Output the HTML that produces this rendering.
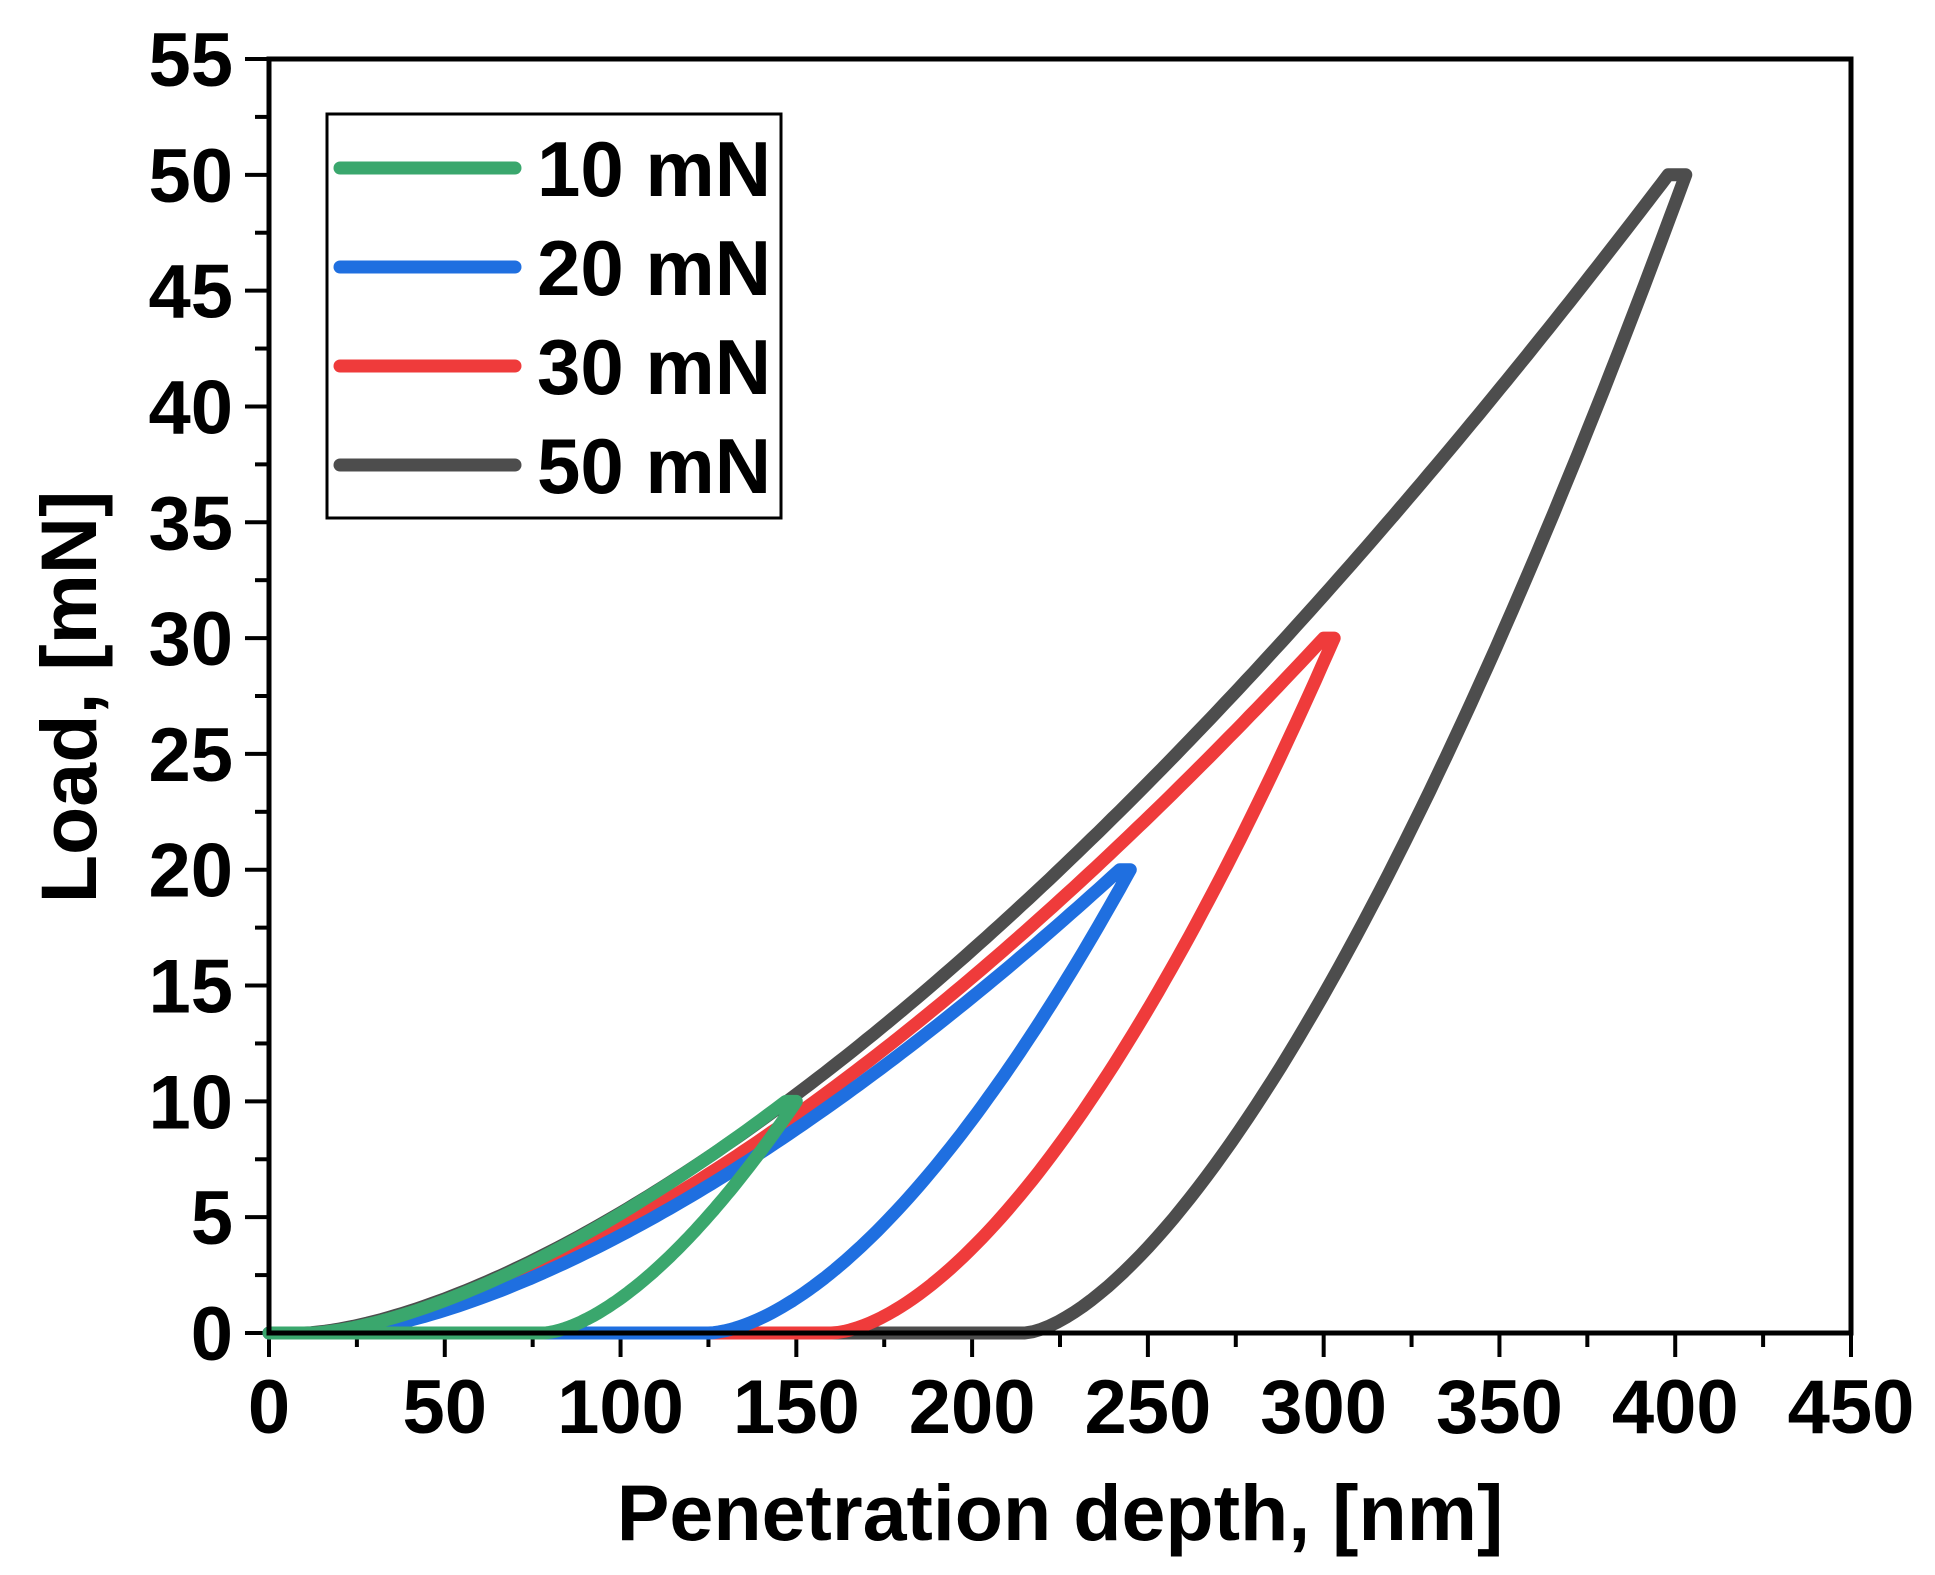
<!DOCTYPE html>
<html><head><meta charset="utf-8"><style>
html,body{margin:0;padding:0;background:#fff}
svg{display:block}
text{font-family:"Liberation Sans",Arial,sans-serif;font-weight:bold;fill:#000}
</style></head><body>
<svg id="s" width="1935" height="1575" viewBox="0 0 1935 1575" xmlns="http://www.w3.org/2000/svg">
<g id="ticks" stroke="#000" stroke-width="4"></g>
<g id="curves" fill="none" stroke-linejoin="round" stroke-linecap="round" stroke-width="13"></g>
<rect x="269" y="59" width="1582" height="1274" fill="none" stroke="#000" stroke-width="5"/>
<g id="labels" font-size="76"></g>
<text x="1060" y="1540" font-size="79" text-anchor="middle">Penetration depth, [nm]</text>
<text transform="translate(96,697) rotate(-90)" font-size="79" text-anchor="middle">Load, [mN]</text>
<rect x="327" y="114" width="454" height="404" fill="#fff" stroke="#000" stroke-width="3"/>
<g stroke-width="13" stroke-linecap="round">
<line x1="340" y1="168" x2="515" y2="168" stroke="#3aa76d"/>
<line x1="340" y1="267" x2="515" y2="267" stroke="#1f6fe0"/>
<line x1="340" y1="366" x2="515" y2="366" stroke="#ef3b3b"/>
<line x1="340" y1="465" x2="515" y2="465" stroke="#4d4d4d"/>
</g>
<g font-size="78">
<text x="537" y="196">10 mN</text>
<text x="537" y="295">20 mN</text>
<text x="537" y="394">30 mN</text>
<text x="537" y="493">50 mN</text>
</g>
</svg>
<script>
var L=269,R=1851,T=59,B=1333;
function X(h){return L+h*(R-L)/450}
function Y(p){return B-p*(B-T)/55}
var NS="http://www.w3.org/2000/svg";
var tk=document.getElementById('ticks'),lb=document.getElementById('labels');
function el(p,tag,a,t){var e=document.createElementNS(NS,tag);for(var k in a)e.setAttribute(k,a[k]);if(t!==undefined)e.textContent=t;p.appendChild(e);return e}
for(var i=0;i<=18;i++){var x=X(i*25),len=i%2?14:24;el(tk,'line',{x1:x,y1:B,x2:x,y2:B+len});
 if(i%2==0)el(lb,'text',{x:x,y:B+100,'text-anchor':'middle'},i*25);}
for(var i=0;i<=22;i++){var y=Y(i*2.5),len=i%2?14:24;el(tk,'line',{x1:L,y1:y,x2:L-len,y2:y});
 if(i%2==0)el(lb,'text',{x:L-36,y:y+27,'text-anchor':'end'},i*2.5);}
var cur=document.getElementById('curves');
function curve(col,h0,hm,P,hu,hf,m){
 var n=1.55,k=P/Math.pow(hm-h0,n),pts=[[0,0],[h0,0]];
 for(var h=h0;h<=hm;h+=2)pts.push([h,k*Math.pow(h-h0,n)]);
 pts.push([hm,P]);pts.push([hu,P]);
 for(var i=0;i<=80;i++){var f=1-i/80;var h=hf+(hu-hf)*f;pts.push([h,P*Math.pow(f,m)]);}
 pts.push([0,0]);
 var d=pts.map(function(p,i){return (i?'L':'M')+X(p[0]).toFixed(1)+' '+Y(p[1]).toFixed(1)}).join(' ');
 el(cur,'path',{d:d,stroke:col});
}
curve('#4d4d4d',10,398,50,403,215,1.55);
curve('#ef3b3b',15,300,30,303,160,1.65);
curve('#1f6fe0',18,242,20,245,125,1.65);
curve('#3aa76d',12,147,10,150,78,1.6);
</script>
</body></html>
